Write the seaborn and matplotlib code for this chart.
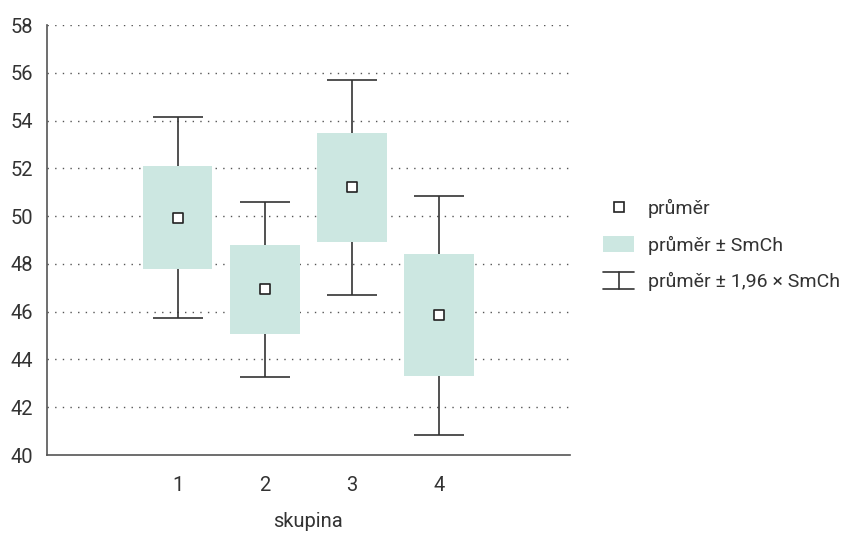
import matplotlib
matplotlib.use("Agg")
import matplotlib.pyplot as plt
from matplotlib.legend_handler import HandlerBase
from matplotlib.lines import Line2D
from matplotlib.patches import Patch
import numpy as np
import pandas as pd
import seaborn as sns

# data
skupiny = [1, 2, 3, 4]
prumer = [49.93, 46.93, 51.20, 45.85]
smch = [2.15, 1.86, 2.30, 2.55]

df = pd.DataFrame({"skupina": skupiny, "prumer": prumer, "smch": smch})
df["dolni"] = df["prumer"] - df["smch"]
df["ci"] = 1.96 * df["smch"]

sns.set_theme(style="white")
plt.rcParams["font.family"] = ["Roboto", "DejaVu Sans"]

text_c = "#333333"
box_c = "#cce7e1"
line_c = "#333333"
fs = 14.5


class HandlerIBeam(HandlerBase):
    def create_artists(self, legend, orig_handle, xdescent, ydescent,
                       width, height, fontsize, trans):
        x0, x1 = -xdescent, -xdescent + width
        y0, y1 = -ydescent - 0.05 * height, -ydescent + 1.05 * height
        xm = (x0 + x1) / 2
        kw = dict(color=line_c, lw=1.2, transform=trans)
        return [Line2D([x0, x1], [y1, y1], **kw),
                Line2D([x0, x1], [y0, y0], **kw),
                Line2D([xm, xm], [y0, y1], **kw)]


fig = plt.figure(figsize=(8.54, 5.33), dpi=100)
ax = fig.add_axes([0.055, 0.1463, 0.612, 0.8067])

# error bars +- 1.96 SE (drawn first, box covers them)
ax.errorbar(df["skupina"], df["prumer"], yerr=df["ci"], fmt="none",
            ecolor=line_c, elinewidth=1.2, capsize=18, capthick=1.2, zorder=2)
# boxes +- SE
ax.bar(df["skupina"], 2 * df["smch"], bottom=df["dolni"], width=0.8,
       color=box_c, edgecolor="none", zorder=3)
# means
sns.scatterplot(data=df, x="skupina", y="prumer", marker="s", s=50,
                color="white", edgecolor="#222222", linewidth=1.2,
                zorder=4, ax=ax, legend=False)

ax.set_xlim(-0.5, 5.5)
ax.set_ylim(40, 58)
ax.set_xticks([0, 1, 2, 3, 4, 5])
ax.set_xticklabels(["", "1", "2", "3", "4", ""])
ax.set_yticks(np.arange(40, 59, 2))
for y in np.arange(42, 59, 2):
    ax.axhline(y, color="#555555", lw=1, ls=(0, (1, 4.5)), zorder=1)

for s in ["top", "right"]:
    ax.spines[s].set_visible(False)
for s in ["left", "bottom"]:
    ax.spines[s].set_color("#555555")
    ax.spines[s].set_linewidth(1.2)
ax.tick_params(axis="both", direction="out", length=5, width=1,
               color="#555555", labelcolor=text_c, labelsize=fs, pad=5)
ax.tick_params(axis="x", pad=10)

ax.set_xlabel("skupina", fontsize=fs, color=text_c)
ax.xaxis.set_label_coords(0.5, -0.133)
ax.set_ylabel("")

handles = [
    Line2D([], [], marker="s", ls="none", markersize=7, markerfacecolor="white",
           markeredgecolor="#222222", markeredgewidth=1.2),
    Patch(facecolor=box_c, edgecolor="none"),
    object(),
]
labels = ["průměr", "průměr ± SmCh", "průměr ± 1,96 × SmCh"]
leg = fig.legend(handles, labels, loc="center left",
                 bbox_to_anchor=(0.686, 0.54), frameon=False,
                 fontsize=14, labelcolor=text_c, handlelength=1.6,
                 handleheight=0.9, labelspacing=0.9, handletextpad=0.7,
                 handler_map={object: HandlerIBeam()})

fig.savefig("out.png", dpi=100)
